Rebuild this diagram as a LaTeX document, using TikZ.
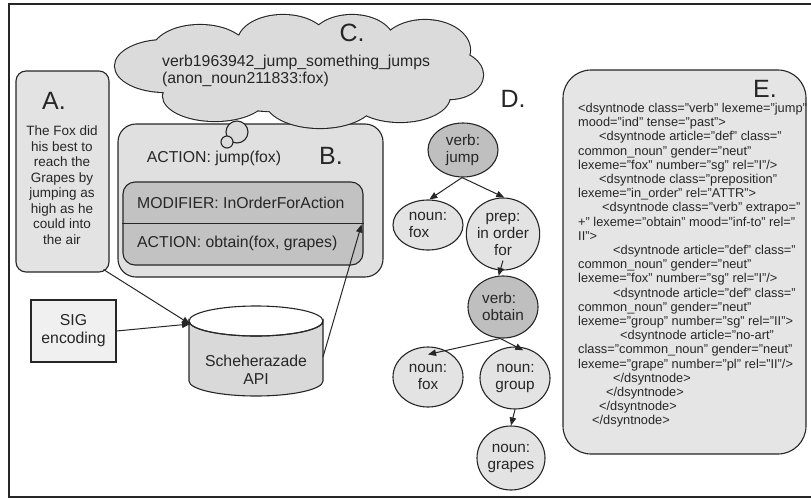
\documentclass[tikz,border=0pt]{standalone}
\usepackage{fontspec}
\setmainfont{Liberation Sans}
\usetikzlibrary{shapes.geometric,arrows.meta,calc}
\definecolor{gA}{gray}{0.89}
\definecolor{gB}{gray}{0.88}
\definecolor{gC}{gray}{0.76}
\definecolor{gCloud}{gray}{0.86}
\definecolor{gSig}{gray}{0.94}
\definecolor{gCyl}{gray}{0.85}
\definecolor{gVerb}{gray}{0.75}
\definecolor{gNoun}{gray}{0.89}
\definecolor{gE}{gray}{0.90}
\definecolor{ink}{gray}{0.15}
\newcommand\cloudpuffs{%
  (165,66) ellipse [x radius=50, y radius=26]
  (200,52) ellipse [x radius=48, y radius=27]
  (283,42) ellipse [x radius=45, y radius=27]
  (352,42) ellipse [x radius=42, y radius=27]
  (425,50) ellipse [x radius=45, y radius=30]
  (450,75) ellipse [x radius=33, y radius=24]
  (400,96) ellipse [x radius=50, y radius=26]
  (320,100) ellipse [x radius=55, y radius=28]
  (215,96) ellipse [x radius=52, y radius=25]
  (300,72) ellipse [x radius=150, y radius=40]}
\begin{document}
\begin{tikzpicture}[x=1pt,y=-1pt,
  bord/.style={draw=ink, line width=1.1pt},
  big/.style={font=\fontsize{25}{28}\selectfont, inner sep=0pt, text=ink},
  txt/.style={font=\fontsize{15.8}{18}\selectfont, inner sep=0pt, text=ink},
  small/.style={font=\fontsize{13.5}{15.5}\selectfont, inner sep=0pt, text=ink},
  tnode/.style={ellipse, bord, inner sep=0pt, text=ink, font=\fontsize{15.3}{17}\selectfont},
  arr/.style={draw=ink, line width=1pt, -{Triangle[length=8pt,width=6.5pt]}},
]
\useasboundingbox (0,0) rectangle (811,498);
\draw[line width=1.4pt, ink] (811,4) -- (9,4) -- (9,497) -- (811,497);

% A
\node[bord, fill=gA, rounded corners=10pt, minimum width=93pt, minimum height=201pt] (boxA) at (62.5,171.5) {};
\node[big] (labA) at (54,101) {A.};
\node[small, align=center] (textA) at (62,185) {The Fox did\\his best to\\reach the\\Grapes by\\jumping as\\high as he\\could into\\the air};

% B
\node[bord, fill=gB, rounded corners=18pt, minimum width=265pt, minimum height=153pt] (boxB) at (250.5,200.5) {};
\node[txt] (jumpfox) at (214,158) {ACTION: jump(fox)};
\node[big] (labB) at (331,156) {B.};
\node[bord, fill=gC, rounded corners=12pt, minimum width=240pt, minimum height=83pt] (inner) at (243,223.5) {};
\draw[bord] (inner.west) -- (inner.east);
\node[txt, anchor=west] (modif) at (137,203) {MODIFIER: InOrderForAction};
\node[txt, anchor=west] (obtainact) at (137,243) {ACTION: obtain(fox, grapes)};

% C (cloud: outline of the union of puffs)
\draw[ink, line width=2.2pt] \cloudpuffs;
\fill[gCloud] \cloudpuffs;
\node[txt, anchor=west, align=left, font=\fontsize{15.8}{17}\selectfont] (ctext) at (162,71) {verb1963942\_jump\_something\_jumps\\(anon\_noun211833:fox)};
\node[big] (labC) at (352,33) {C.};
\node[circle, bord, fill=gCloud, minimum size=22pt, inner sep=0pt] (bub1) at (237,132) {};
\node[circle, bord, fill=gCloud, minimum size=12pt, inner sep=0pt] (bub2) at (227,142) {};

% SIG and API
\node[bord, fill=gSig, minimum width=85pt, minimum height=62pt, inner sep=0pt, align=center, font=\fontsize{15.8}{18}\selectfont, text=ink] (sig) at (73.5,331) {SIG\\encoding};
\path[bord, fill=gCyl] (189,321) -- (189,381) arc[start angle=180, end angle=0, x radius=67, y radius=15] -- (323,321) arc[start angle=0, end angle=180, x radius=67, y radius=15] -- cycle;
\draw[bord] (256,321) ellipse [x radius=67, y radius=15];
\node[txt, align=center] (api) at (256,370) {Scheherazade\\API};
\coordinate (cylL) at (190,324);
\coordinate (cylR) at (323,357);
\draw[arr] ($(boxA.south east)+(-6,-3)$) -- (cylL);
\draw[arr] (sig.east) -- (cylL);
\draw[arr] (cylR) -- ($(inner.east)+(-2,1)$);

% D
\node[big] (labD) at (513,99) {D.};
\node[tnode, fill=gVerb, minimum width=70pt, minimum height=54pt, align=left] (jump) at (463,150) {verb:\\jump};
\node[tnode, fill=gNoun, minimum width=70pt, minimum height=50pt, align=left] (fox1) at (428,225) {noun:\\fox};
\node[tnode, fill=gNoun, minimum width=70pt, minimum height=72pt, align=center] (prep) at (503,234) {prep:\\in order\\for};
\node[tnode, fill=gVerb, minimum width=70pt, minimum height=62pt, align=left] (obtain) at (503,307) {verb:\\obtain};
\node[tnode, fill=gNoun, minimum width=70pt, minimum height=60pt, align=center] (fox2) at (428,377) {noun:\\fox};
\node[tnode, fill=gNoun, minimum width=70pt, minimum height=62pt, align=right] (group) at (515,378) {noun:\\group};
\node[tnode, fill=gNoun, minimum width=68pt, minimum height=64pt, align=center] (grapes) at (511,458) {noun:\\grapes};
\draw[arr] (jump.-92) -- (fox1.87);
\draw[arr] (jump.-92) -- (prep.88);
\draw[arr] ($(prep.south)+(0,-10)$) -- (obtain.98);
\draw[arr] (obtain.-95) -- ($(fox2.north)+(0,8)$);
\draw[arr] (obtain.-95) -- ($(group.75)+(0,3)$);
\draw[arr] (group.-90) -- (grapes.90);

% E
\node[bord, fill=gE, rounded corners=28pt, minimum width=243pt, minimum height=384pt] (boxE) at (684.5,262) {};
\node[big] (labE) at (765,89) {E.};
\node[anchor=north west, inner sep=0pt, align=left, text=ink, font=\fontsize{12.8}{14.2}\selectfont] (xml) at (578,103) {%
<dsyntnode class="verb" lexeme="jump"\\
mood="ind" tense="past">\\
\hspace*{21pt}<dsyntnode article="def" class="\\
common\_noun" gender="neut"\\
lexeme="fox" number="sg" rel="I"/>\\
\hspace*{21pt}<dsyntnode class="preposition"\\
lexeme="in\_order" rel="ATTR">\\
\hspace*{24pt}<dsyntnode class="verb" extrapo="\\
+" lexeme="obtain" mood="inf-to" rel="\\
II">\\
\hspace*{35pt}<dsyntnode article="def" class="\\
common\_noun" gender="neut"\\
lexeme="fox" number="sg" rel="I"/>\\
\hspace*{35pt}<dsyntnode article="def" class="\\
common\_noun" gender="neut"\\
lexeme="group" number="sg" rel="II">\\
\hspace*{42pt}<dsyntnode article="no-art"\\
class="common\_noun" gender="neut"\\
lexeme="grape" number="pl" rel="II"/>\\
\hspace*{35pt}</dsyntnode>\\
\hspace*{28pt}</dsyntnode>\\
\hspace*{21pt}</dsyntnode>\\
\hspace*{14pt}</dsyntnode>};
\end{tikzpicture}
\end{document}
